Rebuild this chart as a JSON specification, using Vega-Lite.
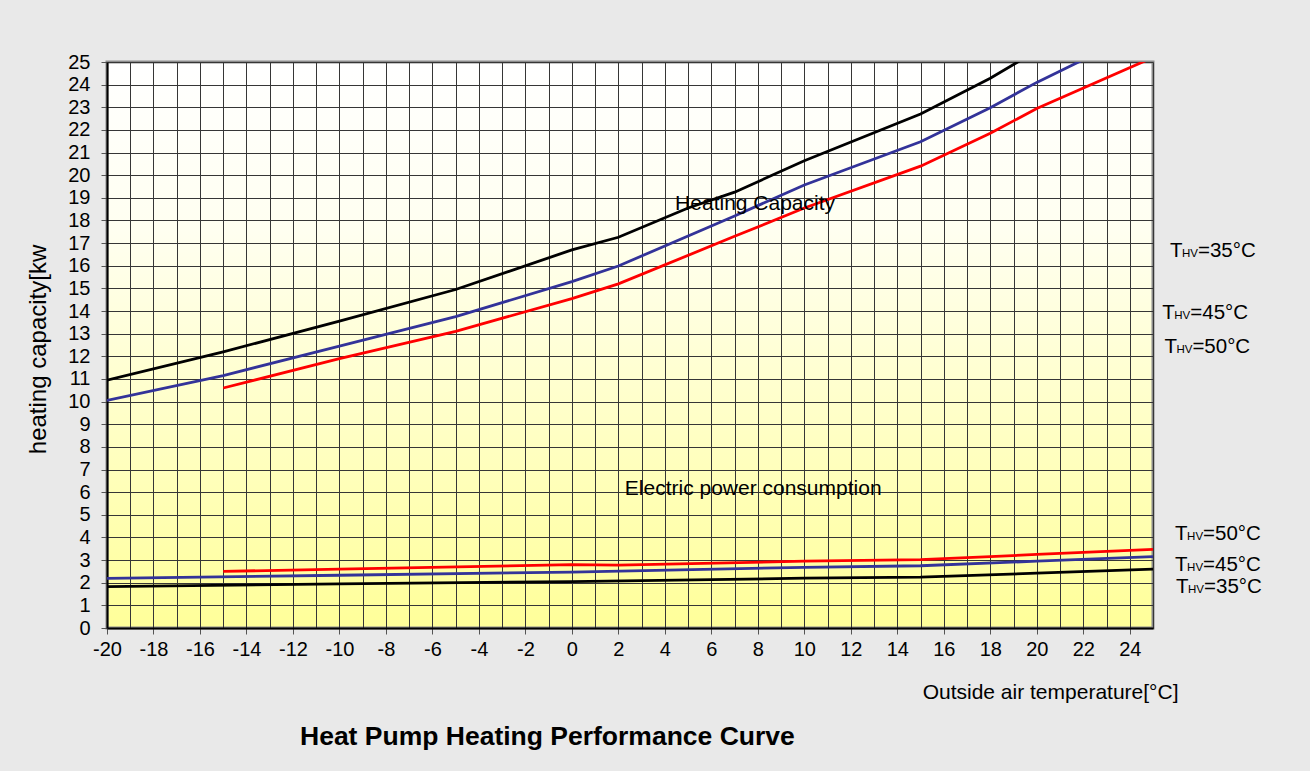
{
  "$schema": "https://vega.github.io/schema/vega-lite/v6.json",
  "autosize": {"type": "none"},
  "width": 1046,
  "height": 566,
  "padding": {"left": 107, "top": 62, "right": 157, "bottom": 143},
  "background": "#e9e9e9",
  "config": {
    "font": "Liberation Sans",
    "view": {
      "fill": {"gradient": "linear", "x1": 0, "y1": 0, "x2": 0, "y2": 1,
        "stops": [{"offset": 0, "color": "#ffffff"}, {"offset": 0.3, "color": "#fffff0"}, {"offset": 1, "color": "#ffff99"}]},
      "stroke": "#8c8c8c",
      "strokeWidth": 3
    }
  },
  "title": {
    "text": "Heat Pump Heating Performance Curve",
    "orient": "bottom",
    "anchor": "start",
    "frame": "group",
    "dx": 193,
    "offset": 22,
    "fontSize": 26.5,
    "fontWeight": "bold",
    "font": "Liberation Sans",
    "color": "#000000"
  },
  "datasets": {
    "curves": [
      {"kind": "heat", "thv": "35", "t": -20, "v": 10.95},
      {"kind": "heat", "thv": "35", "t": -15, "v": 12.2},
      {"kind": "heat", "thv": "35", "t": -10, "v": 13.55},
      {"kind": "heat", "thv": "35", "t": -5, "v": 14.95},
      {"kind": "heat", "thv": "35", "t": 0, "v": 16.7},
      {"kind": "heat", "thv": "35", "t": 2, "v": 17.26},
      {"kind": "heat", "thv": "35", "t": 5, "v": 18.55},
      {"kind": "heat", "thv": "35", "t": 7, "v": 19.25},
      {"kind": "heat", "thv": "35", "t": 10, "v": 20.64},
      {"kind": "heat", "thv": "35", "t": 15, "v": 22.7},
      {"kind": "heat", "thv": "35", "t": 18, "v": 24.28},
      {"kind": "heat", "thv": "35", "t": 20, "v": 25.5},
      {"kind": "heat", "thv": "45", "t": -20, "v": 10.05},
      {"kind": "heat", "thv": "45", "t": -15, "v": 11.15},
      {"kind": "heat", "thv": "45", "t": -10, "v": 12.45},
      {"kind": "heat", "thv": "45", "t": -5, "v": 13.75},
      {"kind": "heat", "thv": "45", "t": 0, "v": 15.3},
      {"kind": "heat", "thv": "45", "t": 2, "v": 15.99},
      {"kind": "heat", "thv": "45", "t": 7, "v": 18.2},
      {"kind": "heat", "thv": "45", "t": 10, "v": 19.57},
      {"kind": "heat", "thv": "45", "t": 15, "v": 21.48},
      {"kind": "heat", "thv": "45", "t": 18, "v": 22.98},
      {"kind": "heat", "thv": "45", "t": 20, "v": 24.1},
      {"kind": "heat", "thv": "45", "t": 22, "v": 25.1},
      {"kind": "heat", "thv": "45", "t": 25, "v": 26.6},
      {"kind": "heat", "thv": "50", "t": -15, "v": 10.6},
      {"kind": "heat", "thv": "50", "t": -10, "v": 11.9},
      {"kind": "heat", "thv": "50", "t": -5, "v": 13.1},
      {"kind": "heat", "thv": "50", "t": 0, "v": 14.55},
      {"kind": "heat", "thv": "50", "t": 2, "v": 15.2},
      {"kind": "heat", "thv": "50", "t": 7, "v": 17.3},
      {"kind": "heat", "thv": "50", "t": 10, "v": 18.55},
      {"kind": "heat", "thv": "50", "t": 15, "v": 20.4},
      {"kind": "heat", "thv": "50", "t": 18, "v": 21.85},
      {"kind": "heat", "thv": "50", "t": 20, "v": 22.95},
      {"kind": "heat", "thv": "50", "t": 25, "v": 25.2},
      {"kind": "power", "thv": "35", "t": -20, "v": 1.83},
      {"kind": "power", "thv": "35", "t": -10, "v": 1.95},
      {"kind": "power", "thv": "35", "t": 0, "v": 2.05},
      {"kind": "power", "thv": "35", "t": 10, "v": 2.2},
      {"kind": "power", "thv": "35", "t": 15, "v": 2.25},
      {"kind": "power", "thv": "35", "t": 20, "v": 2.42},
      {"kind": "power", "thv": "35", "t": 25, "v": 2.6},
      {"kind": "power", "thv": "45", "t": -20, "v": 2.19},
      {"kind": "power", "thv": "45", "t": -10, "v": 2.33},
      {"kind": "power", "thv": "45", "t": 0, "v": 2.47},
      {"kind": "power", "thv": "45", "t": 10, "v": 2.68},
      {"kind": "power", "thv": "45", "t": 15, "v": 2.75},
      {"kind": "power", "thv": "45", "t": 20, "v": 2.95},
      {"kind": "power", "thv": "45", "t": 25, "v": 3.15},
      {"kind": "power", "thv": "50", "t": -15, "v": 2.5},
      {"kind": "power", "thv": "50", "t": -10, "v": 2.6},
      {"kind": "power", "thv": "50", "t": 0, "v": 2.8},
      {"kind": "power", "thv": "50", "t": 2, "v": 2.78},
      {"kind": "power", "thv": "50", "t": 10, "v": 2.95},
      {"kind": "power", "thv": "50", "t": 15, "v": 3.02},
      {"kind": "power", "thv": "50", "t": 18, "v": 3.15},
      {"kind": "power", "thv": "50", "t": 20, "v": 3.25},
      {"kind": "power", "thv": "50", "t": 25, "v": 3.47}
    ],
    "labels": [
      {"t": 25.73, "v": 16.37, "rest": "=35°C"},
      {"t": 25.40, "v": 13.65, "rest": "=45°C"},
      {"t": 25.49, "v": 12.13, "rest": "=50°C"},
      {"t": 25.95, "v": 3.88, "rest": "=50°C"},
      {"t": 25.95, "v": 2.52, "rest": "=45°C"},
      {"t": 25.99, "v": 1.56, "rest": "=35°C"}
    ],
    "notes": [
      {"t": 7.88, "v": 18.75, "text": "Heating Capacity"},
      {"t": 7.8, "v": 6.12, "text": "Electric power consumption"}
    ]
  },
  "encoding": {
    "x": {
      "field": "t", "type": "quantitative",
      "scale": {"domain": [-20, 25], "nice": false, "zero": false},
      "axis": {
        "values": [-20,-19,-18,-17,-16,-15,-14,-13,-12,-11,-10,-9,-8,-7,-6,-5,-4,-3,-2,-1,0,1,2,3,4,5,6,7,8,9,10,11,12,13,14,15,16,17,18,19,20,21,22,23,24,25],
        "labelExpr": "datum.value % 2 === 0 ? '' + datum.value : ''",
        "tickOpacity": {"condition": {"test": "datum.value % 2 === 0", "value": 1}, "value": 0},
        "grid": true, "gridColor": "#363636", "gridWidth": 1, "gridOpacity": 1,
        "domainColor": "#000000", "domainWidth": 2,
        "tickColor": "#555555", "tickSize": 6, "tickWidth": 1,
        "labelFontSize": 20, "labelColor": "#000000", "labelPadding": 5, "labelFlush": false,
        "labelFont": "Liberation Sans",
        "title": "Outside air temperature[°C]",
        "titleFont": "Liberation Sans", "titleFontSize": 21, "titleFontWeight": "normal", "titleColor": "#000000",
        "titleAnchor": "end", "titleAlign": "right", "titleBaseline": "middle",
        "titleX": 1071, "titleY": 64
      }
    },
    "y": {
      "field": "v", "type": "quantitative",
      "scale": {"domain": [0, 25], "nice": false},
      "axis": {
        "values": [0,1,2,3,4,5,6,7,8,9,10,11,12,13,14,15,16,17,18,19,20,21,22,23,24,25],
        "labelExpr": "'' + datum.value",
        "grid": true, "gridColor": "#363636", "gridWidth": 1, "gridOpacity": 1,
        "domainColor": "#000000", "domainWidth": 2,
        "tickColor": "#555555", "tickSize": 6, "tickWidth": 1,
        "labelFontSize": 20, "labelColor": "#000000", "labelPadding": 11, "labelFlush": false,
        "labelFont": "Liberation Sans",
        "title": "heating capacity[kw",
        "titleFont": "Liberation Sans", "titleFontSize": 24, "titleFontWeight": "normal", "titleColor": "#000000",
        "titleAlign": "center", "titleBaseline": "middle", "titleAngle": 270,
        "titleX": -69, "titleY": 287
      }
    }
  },
  "layer": [
    {
      "data": {"name": "curves"},
      "mark": {"type": "line", "strokeWidth": 2.8, "clip": true},
      "encoding": {
        "color": {"field": "thv", "type": "nominal",
          "scale": {"domain": ["35", "45", "50"], "range": ["#000000", "#333399", "#ff0000"]},
          "legend": null},
        "detail": {"field": "kind"}
      }
    },
    {
      "data": {"name": "notes"},
      "mark": {"type": "text", "fontSize": 21, "font": "Liberation Sans", "color": "#000000", "align": "center", "baseline": "middle"},
      "encoding": {"text": {"field": "text"}}
    },
    {
      "data": {"name": "labels"},
      "mark": {"type": "text", "fontSize": 20.5, "font": "Liberation Sans", "color": "#000000", "align": "left", "baseline": "alphabetic"},
      "encoding": {"text": {"value": "T"}}
    },
    {
      "data": {"name": "labels"},
      "mark": {"type": "text", "fontSize": 11.5, "font": "Liberation Sans", "color": "#000000", "align": "left", "baseline": "alphabetic", "dx": 12},
      "encoding": {"text": {"value": "HV"}}
    },
    {
      "data": {"name": "labels"},
      "mark": {"type": "text", "fontSize": 20.5, "font": "Liberation Sans", "color": "#000000", "align": "left", "baseline": "alphabetic", "dx": 28},
      "encoding": {"text": {"field": "rest"}}
    }
  ]
}
